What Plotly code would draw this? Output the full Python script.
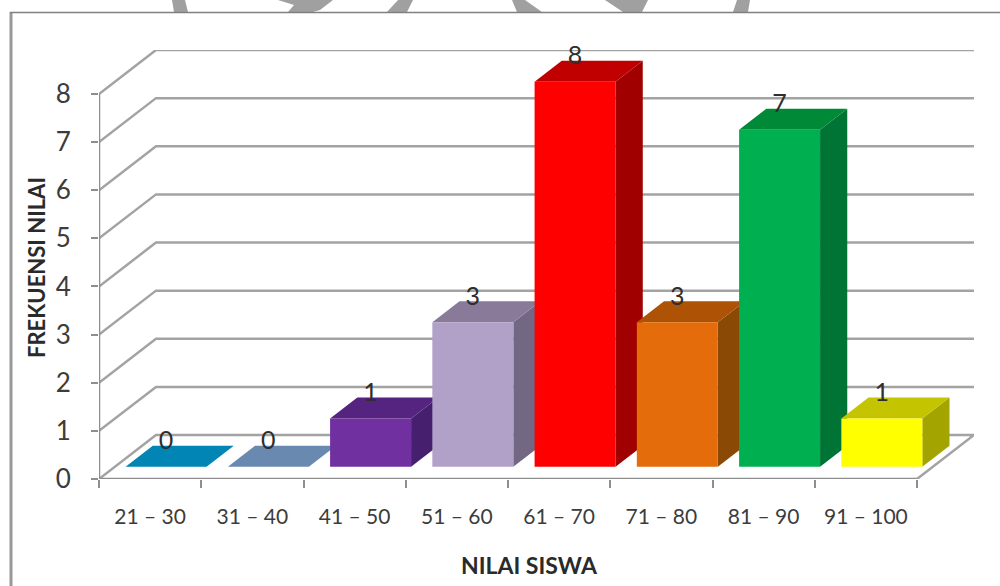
import plotly.graph_objects as go

# Score bands and how many students fall into each
CATEGORIES = ["21 – 30", "31 – 40", "41 – 50", "51 – 60", "61 – 70", "71 – 80", "81 – 90", "91 – 100"]
FREQUENCIES = [0, 0, 1, 3, 8, 3, 7, 1]
Y_TICKS = [0, 1, 2, 3, 4, 5, 6, 7, 8]

# Face colours of each box
FRONT_COLORS = ["#0085B5", "#6A89B0", "#7030A0", "#B1A0C7", "#FF0000", "#E46C0A", "#00B050", "#FFFF00"]
TOP_COLORS = ["#0085B5", "#6A89B0", "#552480", "#8A7A9A", "#C00000", "#AE5206", "#008A38", "#C4C400"]
SIDE_COLORS = ["#0085B5", "#6A89B0", "#46206E", "#726884", "#A00000", "#8A4A06", "#007434", "#A4A400"]

# Oblique projection of the depth axis, in axis units
DEPTH_X = 0.5575
DEPTH_Y = 0.914
BAR_FRONT = 0.28
BAR_BACK = 0.757
BAR_WIDTH = 0.792
LABEL_LIFT = 0.49

GRID = "#A3A3A3"
AXIS = "#8E8E8E"
TEXT = "#3C3C3C"
FONT = "Lato"

WIDTH, HEIGHT = 1000, 586
MARGIN = dict(l=99, r=26, t=50, b=107)


def paper_x(px):
    return (px - MARGIN["l"]) / (WIDTH - MARGIN["l"] - MARGIN["r"])


def paper_y(px):
    return 1 - (px - MARGIN["t"]) / (HEIGHT - MARGIN["t"] - MARGIN["b"])


def polygon(xs, ys, color):
    return go.Scatter(x=xs, y=ys, mode="lines", fill="toself", fillcolor=color,
                      line=dict(width=0, color=color), hoverinfo="skip", cliponaxis=False)


def line(xs, ys, color):
    return go.Scatter(x=xs, y=ys, mode="lines", line=dict(color=color, width=2.5),
                      hoverinfo="skip", cliponaxis=False)


fig = go.Figure()

# Walls: every gridline runs up the side wall and along the back wall
n = len(CATEGORIES)
for level in Y_TICKS[1:]:
    fig.add_trace(line([0, DEPTH_X, n + DEPTH_X], [level, level + DEPTH_Y, level + DEPTH_Y], GRID))

# Floor outline
fig.add_trace(line([0, DEPTH_X, n + DEPTH_X, n], [0, DEPTH_Y, DEPTH_Y, 0], GRID))

# Axis lines stop at the last tick, so they are drawn apart from the axis frame
fig.add_trace(line([0, 0], [0, Y_TICKS[-1]], AXIS))
fig.add_trace(line([0, n], [0, 0], AXIS))

# Boxes, left to right so each one hides the side of its left neighbour
label_x, label_y = [], []
for i, value in enumerate(FREQUENCIES):
    x0 = i + 0.5 - BAR_WIDTH / 2 + BAR_FRONT * DEPTH_X
    x1 = x0 + BAR_WIDTH
    y0 = BAR_FRONT * DEPTH_Y
    y1 = y0 + value
    shift_x = (BAR_BACK - BAR_FRONT) * DEPTH_X
    shift_y = (BAR_BACK - BAR_FRONT) * DEPTH_Y
    if value > 0:
        fig.add_trace(polygon([x1, x1 + shift_x, x1 + shift_x, x1, x1],
                              [y0, y0 + shift_y, y1 + shift_y, y1, y0], SIDE_COLORS[i]))
    fig.add_trace(polygon([x0, x1, x1 + shift_x, x0 + shift_x, x0],
                          [y1, y1, y1 + shift_y, y1 + shift_y, y1], TOP_COLORS[i]))
    if value > 0:
        fig.add_trace(polygon([x0, x1, x1, x0, x0], [y0, y0, y1, y1, y0], FRONT_COLORS[i]))
    label_x.append((x0 + x1) / 2)
    label_y.append(y1 + LABEL_LIFT)

fig.add_trace(go.Scatter(x=label_x, y=label_y, mode="text", text=[str(v) for v in FREQUENCIES],
                         textposition="middle center", textfont=dict(family=FONT, size=25, color="#2E2E2E"),
                         hoverinfo="skip", cliponaxis=False))


def frame_line(x0, y0, x1, y1, color, width):
    return dict(type="line", xref="paper", yref="paper", x0=paper_x(x0), y0=paper_y(y0),
                x1=paper_x(x1), y1=paper_y(y1), line=dict(color=color, width=width))


def emblem_piece(points):
    path = "M " + " L ".join(f"{paper_x(px):.5f},{paper_y(py):.5f}" for px, py in points) + " Z"
    return dict(type="path", xref="paper", yref="paper", path=path,
                fillcolor="#A0A0A0", line=dict(width=0), layer="below")


# Emblem fragments peeking out above the chart frame
EMBLEM = [
    [(172, 0), (185, 0), (188, 12), (174, 12)],
    [(278, 0), (333, 0), (320, 10), (313, 12), (288, 12), (294, 5)],
    [(398, 0), (413, 0), (407, 12), (387, 12)],
    [(512, 0), (525, 0), (542, 12), (517, 12)],
    [(605, 0), (648, 0), (642, 12), (623, 12)],
    [(737, 0), (750, 0), (748, 12), (733, 12)],
]

fig.update_layout(
    width=WIDTH, height=HEIGHT, margin=MARGIN, autosize=False,
    paper_bgcolor="white", plot_bgcolor="white", showlegend=False,
    font=dict(family=FONT, color=TEXT),
    xaxis=dict(
        range=[0, n + DEPTH_X], showgrid=False, zeroline=False, showline=False, fixedrange=True,
        tickmode="array", tickvals=[i + 0.5 for i in range(n)], ticktext=CATEGORIES,
        ticks="", ticklabelstandoff=23, tickfont=dict(family=FONT, size=21, color=TEXT),
        minor=dict(tick0=0, dtick=1, ticks="outside", ticklen=8, tickwidth=2, tickcolor=AXIS, showgrid=False),
    ),
    yaxis=dict(
        range=[0, Y_TICKS[-1] + DEPTH_Y], showgrid=False, zeroline=False, showline=False, fixedrange=True,
        tickmode="array", tickvals=Y_TICKS, ticks="outside", ticklen=7, tickwidth=2, tickcolor=AXIS,
        ticklabelstandoff=15, tickfont=dict(family=FONT, size=26, color=TEXT),
    ),
    shapes=[frame_line(11, 12, 11, HEIGHT, "#999999", 3), frame_line(10, 12.5, WIDTH, 12.5, "#808080", 1.5)]
    + [emblem_piece(p) for p in EMBLEM],
    annotations=[
        dict(text="<b>FREKUENSI NILAI</b>", xref="paper", yref="paper", x=paper_x(36), y=paper_y(268),
             xanchor="center", yanchor="middle", textangle=-90, showarrow=False,
             font=dict(family=FONT, size=22, color="#2A2A2A")),
        dict(text="<b>NILAI SISWA</b>", xref="paper", yref="paper", x=paper_x(529), y=paper_y(565),
             xanchor="center", yanchor="middle", showarrow=False,
             font=dict(family=FONT, size=23, color="#2A2A2A")),
    ],
)

fig.write_html("out.html", config=dict(displayModeBar=False))
